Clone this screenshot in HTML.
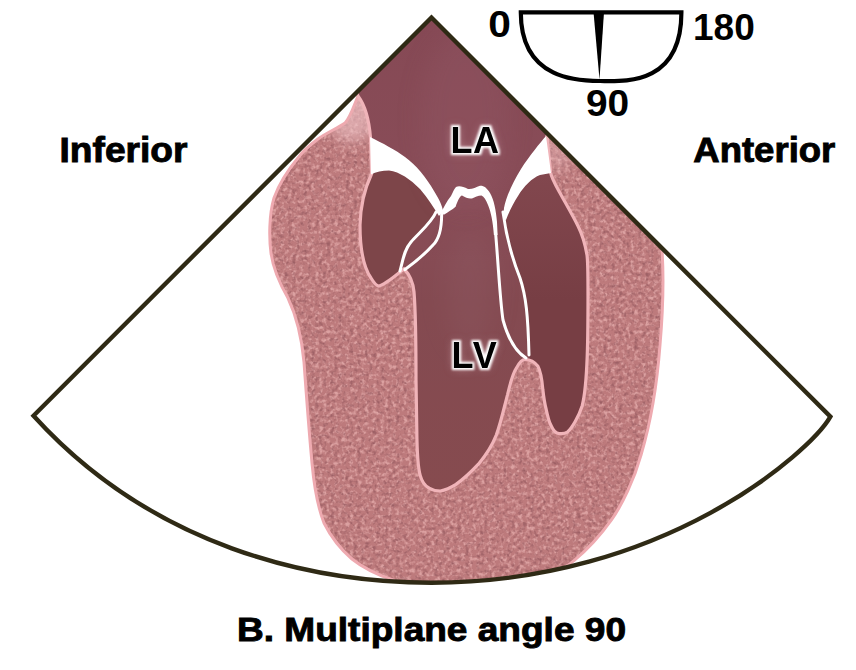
<!DOCTYPE html>
<html><head><meta charset="utf-8">
<style>
html,body{margin:0;padding:0;background:#fff;width:856px;height:670px;overflow:hidden}
svg{display:block}
text{font-family:"Liberation Sans",sans-serif;font-weight:bold}
</style></head><body>
<svg width="856" height="670" viewBox="0 0 856 670">
<defs>
  <clipPath id="sector"><path d="M431.5 17.5 L33.5 415.7 C152.5 546.7 310.5 582.7 431.5 582.7 C663.5 582.7 810.4 451.7 830.4 416.7 Z"/></clipPath>
  <path id="myoP" d="M358 96 C354 106 350 118 345 123 C338 128 326 133 318 139 C310 145 303 151 298 158 C288 170 279 184 274 198 C269 215 269 238 271 253 C273 268 280 284 288 298 C296 315 302 340 304 362 C306 390 309 430 312 463 C314 485 317 505 324 523 C330 535 338 547 352 559 C362 567 375 574 393 580 C410 590 420 600 430 610 L520 610 C540 585 560 572 574 560.6 C588 549 600 536 611.6 519.6 C622 505 634 480 641 455 C650 425 657 385 660 345 C663 310 664 280 662 250 L668 200 L700 100 L560 40 Z"/>
  <clipPath id="myoClip"><use href="#myoP"/></clipPath>
  <filter id="tex" x="0" y="0" width="100%" height="100%" filterUnits="userSpaceOnUse" color-interpolation-filters="sRGB">
    <feTurbulence type="fractalNoise" baseFrequency="0.26" numOctaves="2" seed="7" result="n"/>
    <feGaussianBlur in="n" stdDeviation="0.5" result="nb"/>
    <feColorMatrix in="nb" type="matrix" values="0 0 0 0 0.86  0 0 0 0 0.63  0 0 0 0 0.63  0 0 0 3.3 -1.5" result="light"/>
    <feTurbulence type="fractalNoise" baseFrequency="0.26" numOctaves="2" seed="21" result="n2"/>
    <feGaussianBlur in="n2" stdDeviation="0.5" result="n2b"/>
    <feColorMatrix in="n2b" type="matrix" values="0 0 0 0 0.62  0 0 0 0 0.38  0 0 0 0 0.4  0 0 0 3.0 -1.5" result="dark"/>
    <feMerge><feMergeNode in="light"/><feMergeNode in="dark"/></feMerge>
  </filter>
  <filter id="glow" x="-40%" y="-40%" width="180%" height="180%" color-interpolation-filters="sRGB">
    <feMorphology in="SourceAlpha" operator="dilate" radius="1.5" result="d"/>
    <feGaussianBlur in="d" stdDeviation="1.3" result="b"/>
    <feGaussianBlur in="SourceAlpha" stdDeviation="5" result="b2"/>
    <feFlood flood-color="#fff" flood-opacity="1"/>
    <feComposite in2="b" operator="in" result="w"/>
    <feFlood flood-color="#f4d0d8" flood-opacity="0.55"/>
    <feComposite in2="b2" operator="in" result="w2"/>
    <feMerge><feMergeNode in="w2"/><feMergeNode in="w"/><feMergeNode in="SourceGraphic"/></feMerge>
  </filter>
  <linearGradient id="cavG" x1="0" y1="20" x2="0" y2="490" gradientUnits="userSpaceOnUse">
    <stop offset="0" stop-color="#864955"/>
    <stop offset="0.4" stop-color="#894d58"/>
    <stop offset="0.6" stop-color="#844a51"/>
    <stop offset="1" stop-color="#864b4f"/>
  </linearGradient>
  <filter id="soft6" x="-50%" y="-50%" width="200%" height="200%"><feGaussianBlur stdDeviation="7"/></filter>
  <filter id="soft" x="-50%" y="-50%" width="200%" height="200%"><feGaussianBlur stdDeviation="12"/></filter>
  <linearGradient id="rcG" x1="0" y1="175" x2="0" y2="300" gradientUnits="userSpaceOnUse">
    <stop offset="0" stop-color="#82474e"/>
    <stop offset="1" stop-color="#773e44"/>
  </linearGradient>
</defs>

<g clip-path="url(#sector)">
  <!-- myocardium -->
  <use href="#myoP" fill="#bd7a7c"/>
  <g clip-path="url(#myoClip)"><rect x="250" y="80" width="440" height="530" filter="url(#tex)"/></g>
  <g clip-path="url(#myoClip)"><ellipse cx="352" cy="112" rx="26" ry="30" fill="#efc4c8" opacity="0.6" filter="url(#soft6)"/><ellipse cx="558" cy="150" rx="14" ry="22" fill="#efc4c8" opacity="0.35" filter="url(#soft6)"/></g>
  <use href="#myoP" fill="none" stroke="#eeaab0" stroke-width="3"/>
  <!-- cavity -->
  <path fill="url(#cavG)" d="M320 -10 L358 96 C364 104 369 118 370.5 138 L371.5 174 C365 188 360.5 205 360 225 C360 250 364 268 371 278 C374 283 377 286 379 286 C385 285 395 276 404 269 C409 274 413 282 414 292 C415.5 310 416 340 416 380 L416.8 430 C417 452 417.5 466 420.2 475.4 C422 482 425 486 429 488 C433 490.5 436 491 440.3 491 C446 490 451 487.5 456 484.4 C465 478 472 471 478.4 464.2 C486 455 492 446 496.3 435.1 C501 422 504 408 507.5 394.8 C510 384 513 373 516.5 367.9 C519 363 522 359.5 525 359.5 C529 359.5 534 361 537.9 366.3 C541 372 542 380 542.8 389.3 C544 400 545 405 546.1 409 C548 418 549 422 551 425.4 C553 430 556 433.6 559.3 433.6 C563 434 566 433 567.5 432 C572 428 579 416 582.2 405.7 C585 395 586.5 375 587.2 356.4 C587.8 340 588 320 588 295 C588 275 588 262 587 255 C585 243 582 234 578 226 C572 214 566 204 560 193 C555 184 551.5 178 550.6 172.5 L547 136 L640 -10 Z"/>
  <!-- left chamber darker -->
  <path fill="#7d4549" d="M371.5 174 C376 172 382 170.5 389 170.5 C400 172 410 179 420 189 C428 198 434 208 437 213 C432 222 420 232 411 242 C404 250 403 260 401 270 C395 276 385 285 379 286 C377 286 374 283 371 278 C364 268 360 250 360 225 C360.5 205 365 188 371.5 174 Z"/>
  <!-- right chamber darker -->
  <path fill="url(#rcG)" d="M551 173 L540 175 C532 178 524 186 518 196 C514 202 509 212 503 214 C506 235 512 258 520 278 C526 296 528 315 529 359 C532 361 535 362 537.9 366.3 C541 372 542 380 542.8 389.3 C544 400 545 405 546.1 409 C548 418 549 422 551 425.4 C553 430 556 433.6 559.3 433.6 C563 434 566 433 567.5 432 C572 428 579 416 582.2 405.7 C585 395 586.5 375 587.2 356.4 C587.8 340 588 320 588 295 C588 275 588 262 587 255 C585 243 582 234 578 226 C572 214 566 204 560 193 C555 184 551.5 178 551 173 Z"/>
  <!-- soft light blob in LA/LV center -->
  <ellipse cx="465" cy="120" rx="45" ry="90" fill="#9a6070" opacity="0.22" filter="url(#soft)"/>
  <ellipse cx="470" cy="290" rx="25" ry="60" fill="#93606a" opacity="0.25" filter="url(#soft)"/>
  <path fill="none" stroke="#f0b4b9" stroke-width="3.2" d="M320 -10 L358 96 C364 104 369 118 370.5 138 L371.5 174 C365 188 360.5 205 360 225 C360 250 364 268 371 278 C374 283 377 286 379 286 C385 285 395 276 404 269 C409 274 413 282 414 292 C415.5 310 416 340 416 380 L416.8 430 C417 452 417.5 466 420.2 475.4 C422 482 425 486 429 488 C433 490.5 436 491 440.3 491 C446 490 451 487.5 456 484.4 C465 478 472 471 478.4 464.2 C486 455 492 446 496.3 435.1 C501 422 504 408 507.5 394.8 C510 384 513 373 516.5 367.9 C519 363 522 359.5 525 359.5 C529 359.5 534 361 537.9 366.3 C541 372 542 380 542.8 389.3 C544 400 545 405 546.1 409 C548 418 549 422 551 425.4 C553 430 556 433.6 559.3 433.6 C563 434 566 433 567.5 432 C572 428 579 416 582.2 405.7 C585 395 586.5 375 587.2 356.4 C587.8 340 588 320 588 295 C588 275 588 262 587 255 C585 243 582 234 578 226 C572 214 566 204 560 193 C555 184 551.5 178 550.6 172.5 L547 136 L640 -10 Z"/>
  <!-- white wings -->
  <path fill="#fff" d="M370 137 C382 143 396 150 405 157 C416 165 426 177 434 191 C439 199 442 205 443 211 L439 216 C434 208 428 198 420 189 C410 179 400 172 389 170.5 C382 170.5 376 172 371 174.5 Z"/>
  <path fill="#fff" d="M546 136 C540 143 530 155 521 169 C513 182 506 197 504 208 L503 219 L506 220 C509 212 514 202 518 196 C524 186 532 178 540 175 L551 173 Z"/>
  <!-- center zigzag -->
  <path fill="#fff" d="M440.6 214.3 C443 208 447 201 451 196 C453 192 454 189 456 187 C459 185.5 463 186.5 468 189 C472 189.5 476 187 480 185.7 C484 185.5 487 188 490 193 C494 200 496 210 497 222 L497.6 235 L493.9 235 C493 222 491 212 488 205 C486 200 484 196.5 481.5 195.6 C478 195.6 475 197.5 472 198.4 C469 199 466 198 462 195.6 C460 196 458 200 455.6 206.8 C452 210 448 212 444.3 214.5 Z"/>
  <!-- leaflets -->
  <g fill="none" stroke="#fff" stroke-width="3" stroke-linecap="round">
    <path d="M436 212 C432 222 420 232 411 242 C404 250 403 260 400 271"/>
    <path d="M441.6 211 C442 225 440 238 433 245 C424 255 414 263 405 269.5"/>
    <path d="M495.5 232 C498 260 500 300 503 320 C508 338 516 352 526 358"/>
    <path d="M503 212 C506 235 512 258 520 278 C526 296 528 315 529 355"/>
  </g>
</g>

<!-- sector outline -->
<path fill="none" stroke="#2f2a15" stroke-width="4.4" stroke-linejoin="miter"
  d="M431.5 17.5 L33.5 415.7 C152.5 546.7 310.5 582.7 431.5 582.7 C663.5 582.7 810.4 451.7 830.4 416.7 Z"/>

<!-- labels -->
<g filter="url(#glow)"><text x="450.5" y="153" font-size="36" letter-spacing="0.5" fill="#000">LA</text></g>
<g filter="url(#glow)"><text x="451.5" y="368" font-size="36" letter-spacing="2" fill="#000">LV</text></g>

<text x="59.5" y="161.6" font-size="34.4" textLength="128" lengthAdjust="spacingAndGlyphs" fill="#000" stroke="#000" stroke-width="0.9">Inferior</text>
<text x="693.3" y="162" font-size="34.4" textLength="142" lengthAdjust="spacingAndGlyphs" fill="#000" stroke="#000" stroke-width="0.9">Anterior</text>
<text x="237" y="640.8" font-size="33.4" textLength="389" lengthAdjust="spacingAndGlyphs" fill="#000" stroke="#000" stroke-width="0.9">B. Multiplane angle 90</text>

<!-- protractor -->
<path fill="none" stroke="#000" stroke-width="4.2" d="M520.8 12.4 C520.8 80.9 580.5 81 600 81 C621.5 81 681.4 86.9 681.4 12.4 Z"/>
<path fill="#000" d="M593.5 12 L604 12 L599.5 79.5 Z"/>
<text x="0" y="37" font-size="37" fill="#000" transform="translate(488.2 0) scale(1.1 1)">0</text>
<text x="693" y="40" font-size="37" fill="#000">180</text>
<text x="0" y="116.5" font-size="37" fill="#000" transform="translate(586 0) scale(1.05 1)">90</text>
</svg>
</body></html>
